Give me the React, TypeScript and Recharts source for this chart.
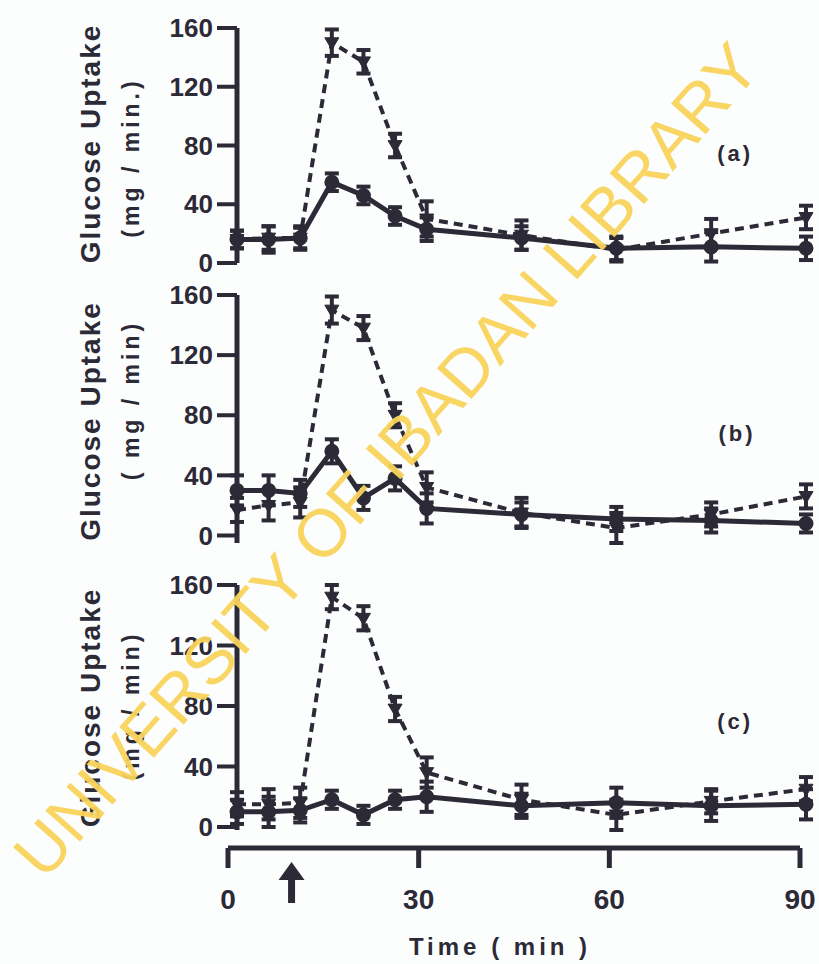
import React from 'react';
import { LineChart, Line, XAxis, YAxis, ErrorBar, ReferenceDot } from 'recharts';

const INK = '#2b2a36';
const FONT = '"Liberation Sans", Arial, sans-serif';

// time points (min)
const times = [0, 5, 10, 15, 20, 25, 30, 45, 60, 75, 90];
const yTicks = [0, 40, 80, 120, 160];
const xTicks = [0, 10, 30, 60, 90];
const xTickLabels = ['0', 'arrow', '30', '60', '90'];

// panel (a)
const aSolid = [16, 16, 17, 55, 46, 32, 23, 17, 10, 11, 10];
const aSolidErr = [6, 9, 7, 6, 6, 6, 8, 8, 8, 10, 8];
const aDashed = [16, 17, 17, 150, 137, 80, 30, 19, 9, 20, 31];
const aDashedErr = [6, 8, 8, 9, 8, 8, 12, 10, 8, 10, 8];

// panel (b)
const bSolid = [30, 30, 28, 56, 25, 38, 18, 14, 11, 10, 8];
const bSolidErr = [10, 10, 9, 8, 8, 8, 10, 8, 8, 8, 6];
const bDashed = [17, 20, 22, 150, 138, 80, 32, 15, 5, 14, 26];
const bDashedErr = [8, 10, 10, 9, 8, 8, 10, 10, 10, 8, 8];

// panel (c)
const cSolid = [10, 10, 11, 18, 8, 18, 20, 14, 16, 14, 15];
const cSolidErr = [8, 10, 8, 6, 6, 6, 10, 8, 10, 10, 10];
const cDashed = [15, 15, 16, 152, 138, 78, 36, 18, 8, 17, 25];
const cDashedErr = [8, 10, 10, 8, 8, 8, 10, 10, 10, 8, 8];

const panelLetters = ['(a)', '(b)', '(c)'];
const yLabel1 = 'Glucose Uptake';
const yLabels2 = ['(mg / min.)', '( mg / min)', '(mg / min)'];
const xLabel = 'Time ( min )';
const watermark = 'UNIVERSITY OF IBADAN LIBRARY';

const TriDot = (props: any) => {
  const { cx, cy, index } = props;
  if (cx == null || cy == null) return <g key={`t${index}`} />;
  const s = 7;
  return (
    <polygon
      key={`t${index}`}
      points={`${cx - s},${cy - s * 0.7} ${cx + s},${cy - s * 0.7} ${cx},${cy + s}`}
      fill={INK}
      stroke={INK}
      strokeWidth={1}
    />
  );
};

type PanelProps = {
  top: number;
  height: number;
  mt: number;
  mb: number;
  solid: number[];
  solidErr: number[];
  dashed: number[];
  dashedErr: number[];
  idx: number;
  l1dy: number;
  l2dy: number;
  letterT: number;
  letterV: number;
};

function Panel(p: PanelProps) {
  const data = times.map((t, i) => ({
    t,
    s: p.solid[i],
    se: p.solidErr[i],
    d: p.dashed[i],
    de: p.dashedErr[i],
  }));
  const yLab = (lp: any) => {
    const vb = lp.viewBox || {};
    const cy = (vb.y || 0) + (vb.height || 0) / 2;
    return (
      <g>
        <text
          x={90}
          y={cy + p.l1dy}
          transform={`rotate(-90 90 ${cy + p.l1dy})`}
          textAnchor="middle"
          dominantBaseline="central"
          fontSize={28}
          fontWeight={700}
          letterSpacing={2}
          fontFamily={FONT}
          fill={INK}
        >
          {yLabel1}
        </text>
        <text
          x={131}
          y={cy + p.l2dy}
          transform={`rotate(-90 131 ${cy + p.l2dy})`}
          textAnchor="middle"
          dominantBaseline="central"
          fontSize={23}
          fontWeight={700}
          letterSpacing={4}
          fontFamily={FONT}
          fill={INK}
        >
          {yLabels2[p.idx]}
        </text>
      </g>
    );
  };
  return (
    <div style={{ position: 'absolute', left: 0, top: p.top, width: 819, height: p.height }}>
      <LineChart
        width={819}
        height={p.height}
        data={data}
        margin={{ top: p.mt, right: 13, bottom: p.mb, left: 0 }}
      >
        <XAxis type="number" dataKey="t" domain={[0, 90]} hide />
        <YAxis
          domain={[0, 160]}
          ticks={yTicks}
          interval={0}
          width={237}
          axisLine={{ stroke: INK, strokeWidth: 5 }}
          tickLine={{ stroke: INK, strokeWidth: 4 }}
          tickSize={20}
          tickMargin={4}
          tick={{ fill: INK, fontSize: 26, fontWeight: 700, fontFamily: FONT }}
          label={yLab}
        />
        <Line
          dataKey="d"
          stroke={INK}
          strokeWidth={4}
          strokeDasharray="9 6"
          dot={TriDot}
          activeDot={false}
          isAnimationActive={false}
        >
          <ErrorBar dataKey="de" width={7} strokeWidth={4} stroke={INK} direction="y" />
        </Line>
        <Line
          dataKey="s"
          stroke={INK}
          strokeWidth={5}
          dot={{ r: 5, fill: INK, stroke: INK }}
          activeDot={false}
          isAnimationActive={false}
        >
          <ErrorBar dataKey="se" width={7} strokeWidth={4} stroke={INK} direction="y" />
        </Line>
        <ReferenceDot
          x={p.letterT}
          y={p.letterV}
          r={0}
          fill="none"
          stroke="none"
          label={{
            value: panelLetters[p.idx],
            position: 'center',
            fill: INK,
            fontSize: 22,
            fontWeight: 700,
            fontFamily: FONT,
            letterSpacing: 3,
          }}
        />
      </LineChart>
    </div>
  );
}

const AxisTick = (props: any) => {
  const { x, y, payload } = props;
  const i = xTicks.indexOf(payload.value);
  const lab = xTickLabels[i];
  if (lab === 'arrow') {
    return (
      <g>
        <polygon points={`${x},${y - 27} ${x - 13},${y - 9} ${x + 13},${y - 9}`} fill={INK} />
        <rect x={x - 3.5} y={y - 11} width={7} height={25} fill={INK} />
      </g>
    );
  }
  return (
    <g>
      <line x1={x} x2={x} y1={y - 41} y2={y - 21} stroke={INK} strokeWidth={5} />
      <text
        x={x}
        y={y}
        dy="0.71em"
        textAnchor="middle"
        fontSize={28}
        fontWeight={700}
        fontFamily={FONT}
        fill={INK}
      >
        {lab}
      </text>
    </g>
  );
};

export default function App() {
  const axisData = times.map((t) => ({ t }));
  return (
    <div
      style={{
        position: 'absolute',
        left: 0,
        top: 0,
        width: 819,
        height: 964,
        background: '#fcfdfd',
        overflow: 'hidden',
      }}
    >
      <Panel top={0} height={280} mt={28} mb={17} solid={aSolid} solidErr={aSolidErr} dashed={aDashed} dashedErr={aDashedErr} idx={0} l1dy={-2} l2dy={12} letterT={78.8} letterV={75} />
      <Panel top={280} height={280} mt={15} mb={17} solid={bSolid} solidErr={bSolidErr} dashed={bDashed} dashedErr={bDashedErr} idx={1} l1dy={2} l2dy={-19} letterT={79.1} letterV={68} />
      <div style={{ position: 'absolute', left: 0, top: 830, width: 819, height: 134 }}>
        <LineChart width={819} height={134} data={axisData} margin={{ top: 0, right: 19, bottom: 0, left: 228 }}>
          <XAxis
            type="number"
            dataKey="t"
            domain={[0, 90]}
            ticks={xTicks}
            interval={0}
            height={116}
            allowDataOverflow
            axisLine={{ stroke: INK, strokeWidth: 5 }}
            tickLine={false}
            tickSize={20}
            tickMargin={21}
            tick={<AxisTick />}
            label={(lp: any) => {
              const vb = lp.viewBox || {};
              return (
                <text
                  x={(vb.x || 0) + (vb.width || 0) / 2 - 14}
                  y={(vb.y || 0) + 107}
                  textAnchor="middle"
                  fontSize={24}
                  fontWeight={700}
                  letterSpacing={4}
                  fontFamily={FONT}
                  fill={INK}
                >
                  {xLabel}
                </text>
              );
            }}
          />
          <YAxis hide domain={[0, 1]} />
        </LineChart>
      </div>
      <Panel top={570} height={300} mt={15} mb={40} solid={cSolid} solidErr={cSolidErr} dashed={cDashed} dashedErr={cDashedErr} idx={2} l1dy={0} l2dy={-2} letterT={78.8} letterV={70} />
      <svg
        width={819}
        height={964}
        style={{ position: 'absolute', left: 0, top: 0, pointerEvents: 'none' }}
      >
        <text
          x={386}
          y={460}
          transform="rotate(-48.5 386 460)"
          textAnchor="middle"
          dominantBaseline="central"
          fontSize={67}
          fontFamily={FONT}
          fill="#f9d45c"
          fillOpacity={0.95}
        >
          {watermark}
        </text>
      </svg>
    </div>
  );
}
